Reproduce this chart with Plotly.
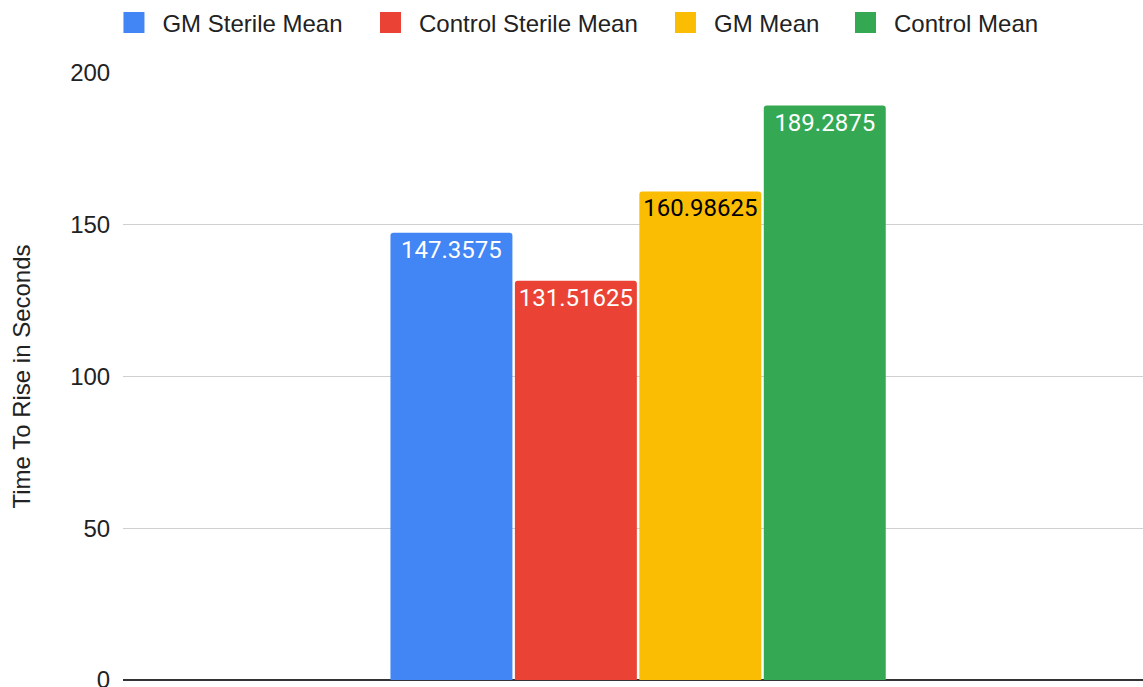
import plotly.graph_objects as go

categories = ["Mean"]
series_names = ["GM Sterile Mean", "Control Sterile Mean", "GM Mean", "Control Mean"]
series_values = [147.3575, 131.51625, 160.98625, 189.2875]
series_colors = ["#4285F4", "#EA4335", "#FBBC04", "#34A853"]
label_colors = ["#ffffff", "#ffffff", "#000000", "#ffffff"]
y_ticks = [0, 50, 100, 150, 200]
legend_x = [-0.0172, 0.2343, 0.5235, 0.7000]

fig = go.Figure()
for name, val, col, lc in zip(series_names, series_values, series_colors, label_colors):
    fig.add_trace(go.Bar(
        x=categories, y=[val], name=name, showlegend=False,
        marker=dict(color=col, cornerradius=3, line=dict(width=0)),
        text=[str(val)], textposition="inside", insidetextanchor="end",
        textangle=0, constraintext="none",
        textfont=dict(family="Roboto", size=24, color=lc),
        hoverinfo="skip",
    ))

# legend proxies (one legend per series, to place entries like the reference)
for i, (name, col) in enumerate(zip(series_names, series_colors)):
    lg = "legend" if i == 0 else f"legend{i+1}"
    fig.add_trace(go.Scatter(
        x=[None], y=[None], mode="markers", name=name, legend=lg,
        marker=dict(symbol="square", size=16, color=col, line=dict(color=col, width=8)),
        showlegend=True, hoverinfo="skip",
    ))

legend_common = dict(orientation="h", xanchor="left", y=1.0824, yanchor="middle",
                     font=dict(family="Liberation Sans, Arial", size=24, color="#222222"),
                     itemwidth=47, bgcolor="rgba(0,0,0,0)")
layout_legends = {}
for i, lx in enumerate(legend_x):
    key = "legend" if i == 0 else f"legend{i+1}"
    layout_legends[key] = dict(legend_common, x=lx)

fig.update_layout(
    width=1143, height=687,
    margin=dict(l=123, r=0, t=73, b=7, autoexpand=False),
    paper_bgcolor="white", plot_bgcolor="white",
    barmode="group", bargap=0.512, bargroupgap=0.02,
    font=dict(family="Liberation Sans, Arial", size=24, color="#222222"),
    **layout_legends,
)
fig.update_xaxes(range=[-0.505, 0.495], showticklabels=False, showgrid=False,
                 showline=False, zeroline=False, ticks="")
fig.update_yaxes(range=[0, 200], tickvals=y_ticks, showgrid=True,
                 gridcolor="#d0d0d0", gridwidth=1,
                 zeroline=True, zerolinecolor="#333333", zerolinewidth=2,
                 showline=False, ticks="outside", ticklen=7, tickcolor="rgba(0,0,0,0)",
                 tickfont=dict(size=24, color="#222222"), ticklabeloverflow="allow",
                 title=dict(text="Time To Rise in Seconds", standoff=32,
                            font=dict(size=24, color="#222222")))

fig.write_html("out.html", config={"displayModeBar": False},
               post_script="document.body.style.margin='0';document.body.style.overflow='hidden';")
